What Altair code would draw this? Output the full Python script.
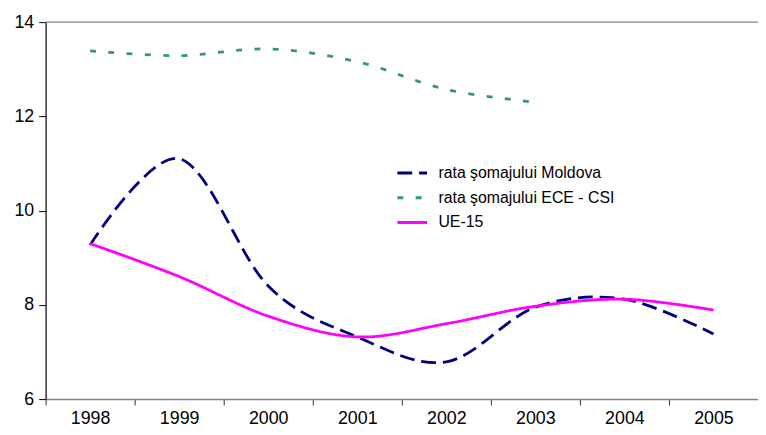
import altair as alt
import pandas as pd

years = ["1998", "1999", "2000", "2001", "2002", "2003", "2004", "2005"]
moldova = [9.27, 11.1, 8.4, 7.32, 6.79, 7.95, 8.12, 7.38]
ece_csi = [13.39, 13.29, 13.43, 13.16, 12.57, 12.3]
ue15 = [9.3, 8.6, 7.76, 7.32, 7.6, 7.97, 8.12, 7.89]
series_names = ["rata şomajului Moldova", "rata şomajului ECE - CSI", "UE-15"]
y_ticks = [6, 8, 10, 12, 14]

rows = []
for name, vals in zip(series_names, [moldova, ece_csi, ue15]):
    for yr, v in zip(years, vals):
        rows.append({"year": yr, "value": v, "series": name})
df = pd.DataFrame(rows)

FONT = "Liberation Sans"

x_enc = alt.X(
    "year:O",
    sort=years,
    bandPosition=0.5,
    scale=alt.Scale(type="band", domain=years, paddingInner=0, paddingOuter=0),
    axis=alt.Axis(
        title=None, labelAngle=0, tickBand="extent", tickSize=6,
        labelPadding=5, labelFontSize=18, labelFont=FONT, labelColor="black",
        domainColor="#808080", tickColor="#333333", domainWidth=1.5,
    ),
)
y_enc = alt.Y(
    "value:Q",
    scale=alt.Scale(domain=[6, 14], nice=False, zero=False),
    axis=alt.Axis(
        title=None, values=y_ticks, grid=False, tickSize=7, labelPadding=5,
        labelFontSize=18, labelFont=FONT, labelColor="black",
        domainColor="black", tickColor="black", domainWidth=1.2,
    ),
)

lines = alt.Chart(df).mark_line(interpolate="cardinal", strokeWidth=2.8).encode(
    x=x_enc,
    y=y_enc,
    color=alt.Color(
        "series:N",
        scale=alt.Scale(domain=series_names, range=["#000080", "#339966", "#FF00FF"]),
        legend=alt.Legend(
            title=None, orient="none", legendX=354, legendY=136,
            symbolType="stroke", symbolSize=900, symbolStrokeWidth=3,
            labelFontSize=16, labelFont=FONT, labelColor="black",
            rowPadding=-5, labelOffset=10, labelLimit=400,
        ),
    ),
    strokeDash=alt.StrokeDash(
        "series:N",
        scale=alt.Scale(domain=series_names, range=[[15, 7], [6, 12.5], [1, 0]]),
        legend=None,
    ),
    detail="series:N",
)

top_df = pd.DataFrame({"v": [14]})
top_rule = alt.Chart(top_df).mark_rule(color="#808080", strokeWidth=1.2).encode(
    y=alt.Y("v:Q", scale=alt.Scale(domain=[6, 14], nice=False, zero=False))
)

chart = alt.layer(top_rule, lines).properties(
    width=720, height=381,
    autosize=alt.AutoSizeParams(type="none"),
    padding={"left": 38, "top": 12, "right": 0, "bottom": 32},
).configure_view(stroke=None)

chart.save("out.html", embed_options={"renderer": "svg", "actions": False})
